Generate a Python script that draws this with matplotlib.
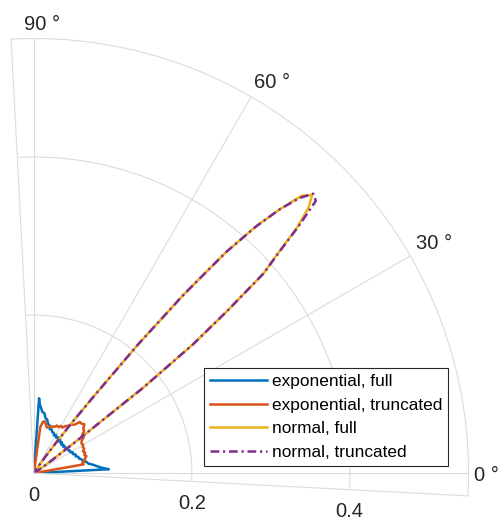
import numpy as np
import matplotlib.pyplot as plt
from matplotlib.transforms import offset_copy

plt.rcParams['font.family'] = ['Liberation Sans', 'DejaVu Sans']

# exponential, full  (angle in degrees, radius)
exp_full_theta = [0, 3, 4, 6, 8, 10, 12, 14, 16, 18, 20, 22, 24, 26, 28, 30, 32, 34, 36,
                  38, 40, 42, 44, 46, 48, 50, 52, 54, 56, 58, 60, 62, 64, 66, 68, 70,
                  72, 74, 76, 78, 80, 82, 84, 85, 86, 87]
exp_full_r = [0, 0.095, 0.089, 0.081, 0.076, 0.070, 0.068, 0.064, 0.063, 0.060, 0.060,
              0.057, 0.058, 0.055, 0.056, 0.053, 0.054, 0.052, 0.053, 0.050, 0.052,
              0.050, 0.052, 0.050, 0.053, 0.051, 0.054, 0.052, 0.055, 0.053, 0.056,
              0.054, 0.057, 0.057, 0.060, 0.059, 0.064, 0.065, 0.070, 0.071, 0.077,
              0.078, 0.084, 0.087, 0.095, 0]

# exponential, truncated
exp_trunc_theta = [8, 10, 12, 14, 16, 18, 20, 22, 24, 26, 28, 30, 32, 34, 36, 38, 40, 42,
                   44, 46, 48, 50, 52, 54, 56, 58, 60, 62, 64, 66, 68, 70, 72, 74, 76,
                   78, 80, 82, 83.5]
exp_trunc_r = [0, 0.064, 0.063, 0.067, 0.067, 0.070, 0.068, 0.070, 0.068, 0.071, 0.070,
               0.072, 0.071, 0.073, 0.078, 0.077, 0.083, 0.084, 0.089, 0.087, 0.087,
               0.080, 0.078, 0.074, 0.072, 0.068, 0.069, 0.066, 0.067, 0.064, 0.064,
               0.062, 0.062, 0.060, 0.063, 0.067, 0.066, 0.059, 0]

# normal, full / truncated
norm_theta = [30, 33, 34, 35, 36, 37, 38, 39, 40, 41, 42, 43, 44, 45, 46, 47, 48, 49, 50,
              51, 52, 53, 54, 55, 56, 57, 60]
norm_full_r = [0, 0, 0.010, 0.020, 0.035, 0.070, 0.175, 0.260, 0.320, 0.385, 0.415,
               0.455, 0.483, 0.498, 0.488, 0.457, 0.420, 0.370, 0.295, 0.210, 0.125,
               0.080, 0.045, 0.025, 0.012, 0, 0]
norm_trunc_r = [0, 0, 0.010, 0.020, 0.035, 0.070, 0.175, 0.260, 0.320, 0.385, 0.417,
                0.458, 0.496, 0.500, 0.484, 0.457, 0.420, 0.370, 0.295, 0.210, 0.125,
                0.080, 0.045, 0.025, 0.012, 0, 0]

theta_ticks = [0, 30, 60, 90]
theta_labels = ['0 °', '30 °', '60 °', '90 °']
theta_label_pos = [(-0.25, 0.573), (29.8, 0.584), (58.6, 0.579), (88.9, 0.568)]
r_ticks = [0, 0.2, 0.4]
r_labels = ['0', '0.2', '0.4']

colors = ['#0072BD', '#D95319', '#EDB120', '#7E2F8E']
txt_color = '#262626'
grid_color = '#dcdcdc'

fig = plt.figure(figsize=(5.01, 5.22), dpi=100)
ax = fig.add_axes([11.1 / 501, 26.1 / 522, 460 / 501, 460 / 522], projection='polar')
ax.set_thetamin(-3)
ax.set_thetamax(93)
ax.set_rlim(0, 0.55)
ax.set_rgrids([0.2, 0.4], labels=['', ''])
ax.set_thetagrids(theta_ticks, labels=[''] * len(theta_ticks))
ax.grid(color=grid_color, lw=0.8)
ax.tick_params(length=0)
for s in ax.spines.values():
    s.set_color(grid_color)
    s.set_linewidth(0.8)

lw = 1.8
ax.plot(np.deg2rad(exp_full_theta), exp_full_r, color=colors[0], lw=lw,
        label='exponential, full')
ax.plot(np.deg2rad(exp_trunc_theta), exp_trunc_r, color=colors[1], lw=lw,
        label='exponential, truncated')
ax.plot(np.deg2rad(norm_theta), norm_full_r, color=colors[2], lw=lw,
        label='normal, full')
ax.plot(np.deg2rad(norm_theta), norm_trunc_r, color=colors[3], lw=lw,
        dashes=[3.5, 1.5, 0.9, 1.5], label='normal, truncated')

# angle labels
for lab, (t, r) in zip(theta_labels, theta_label_pos):
    ax.text(np.deg2rad(t), r, lab, ha='center', va='center', fontsize=14.5,
            color=txt_color, clip_on=False)

# radius labels, below the lower edge
tr = offset_copy(ax.transData, fig=fig, x=0, y=-22, units='dots')
for r, lab in zip(r_ticks, r_labels):
    ax.text(np.deg2rad(-3), r, lab, transform=tr, ha='center', va='center',
            fontsize=14.5, color=txt_color, clip_on=False)

leg = ax.legend(loc='upper left', bbox_to_anchor=(204 / 501, 1 - 368 / 522),
                bbox_transform=fig.transFigure, fontsize=12.4, frameon=True,
                fancybox=False, edgecolor=txt_color, framealpha=1,
                borderpad=0.35, labelspacing=0.49, handlelength=3.3,
                handletextpad=0.3, borderaxespad=0)
leg.get_frame().set_linewidth(0.8)

fig.savefig('out.png', dpi=100)
